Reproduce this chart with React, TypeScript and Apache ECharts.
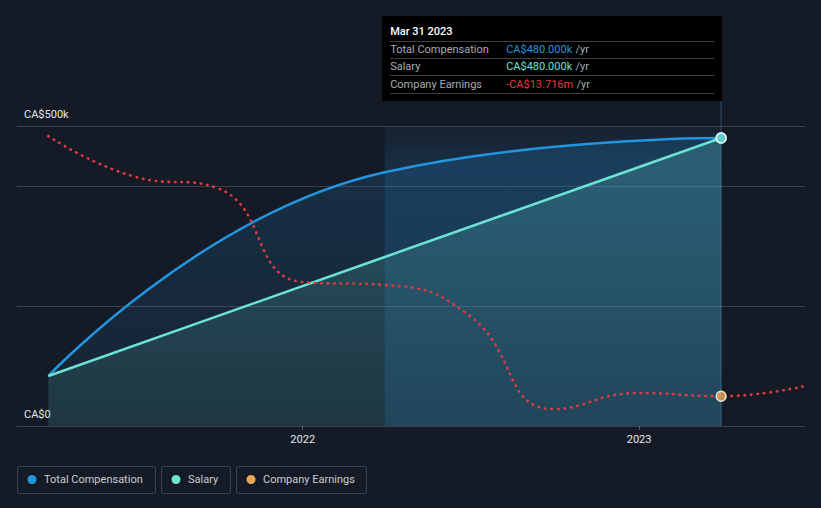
import React, { useEffect, useRef } from "react";
import * as echarts from "echarts";

const compDates = ["2021-03-31", "2022-03-31", "2023-03-31"];
const totalComp = [83300, 423000, 480000];
const salary = [83300, 281700, 480000];

const earnDates = [
  "2021-03-31", "2021-06-30", "2021-09-30", "2021-12-31", "2022-03-31",
  "2022-06-30", "2022-09-30", "2022-12-31", "2023-03-31", "2023-06-30",
];
const earnings = [6.23, 3.17, 2.25, -4.96, -5.19, -7.49, -14.7, -13.47, -13.716, -12.93];

const yTickLabels: Record<number, string> = { 0: "CA$0", 500000: "CA$500k" };
const legendItems = ["Total Compensation", "Salary", "Company Earnings"];
const tooltipTitle = "Mar 31 2023";
const tooltipRows = [
  { label: "Total Compensation", value: "CA$480.000k" },
  { label: "Salary", value: "CA$480.000k" },
  { label: "Company Earnings", value: "-CA$13.716m" },
];
const highlightRange = ["2022-03-31", "2023-03-31"];

const BLUE = "#2394df";
const TEAL = "#6ce2d2";
const RED = "#e5393f";
const ORANGE = "#e8a857";
const BG = "#151b26";
const FONT = "Roboto, 'Noto Sans', sans-serif";

const ts = (s: string) => {
  const [y, m, d] = s.split("-").map(Number);
  return Date.UTC(y, m - 1, d);
};

export default function App() {
  const ref = useRef<HTMLDivElement>(null);
  useEffect(() => {
    document.body.style.margin = "0";
    document.body.style.background = BG;
    const chart = echarts.init(ref.current!, null, { renderer: "svg" });
    const compTotalData = compDates.map((d, i) => [ts(d), totalComp[i]]);
    const salaryData = compDates.map((d, i) => [ts(d), salary[i]]);
    const earnData = earnDates.map((d, i) => [ts(d), earnings[i]]);
    const lastC = compDates.length - 1;
    const lastE = earnDates.indexOf("2023-03-31");

    chart.setOption({
      animation: false,
      useUTC: true,
      backgroundColor: BG,
      textStyle: { fontFamily: FONT },
      grid: { left: 17, right: 16, top: 126, bottom: 82, containLabel: false },
      xAxis: {
        type: "time",
        min: ts("2021-02-25"),
        max: ts("2023-06-30"),
        minInterval: 365 * 24 * 3600 * 1000,
        axisLine: { lineStyle: { color: "#3b404b", width: 1 } },
        axisTick: { show: true, length: 4, lineStyle: { color: "#5a5f69" } },
        splitLine: { show: false },
        axisLabel: {
          color: "#e6e8eb",
          fontSize: 11,
          fontFamily: FONT,
          margin: 8,
          showMinLabel: false,
          showMaxLabel: false,
          formatter: (v: number) => String(new Date(v).getUTCFullYear()),
        },
      },
      yAxis: [
        {
          type: "value",
          min: 0,
          max: 500000,
          interval: 200000,
          axisLine: { show: false },
          axisTick: { show: false },
          splitLine: { lineStyle: { color: "rgba(255,255,255,0.16)", width: 1 } },
          axisLabel: {
            inside: true,
            margin: 7,
            verticalAlign: "bottom",
            padding: [0, 0, 6, 0],
            color: "#e6e8eb",
            fontSize: 11,
            fontFamily: FONT,
            formatter: (v: number) => yTickLabels[v] ?? "",
          },
        },
        { type: "value", min: -16, max: 7, show: false },
      ],
      series: [
        {
          type: "line",
          name: "Total Compensation",
          data: compTotalData,
          smooth: 0.5,
          showSymbol: false,
          lineStyle: { color: BLUE, width: 2.5 },
          areaStyle: {
            color: new echarts.graphic.LinearGradient(0, 0, 0, 1, [
              { offset: 0, color: "rgba(35,148,223,0.25)" },
              { offset: 1, color: "rgba(35,148,223,0.10)" },
            ]),
          },
          z: 2,
        },
        {
          type: "line",
          name: "Salary",
          data: salaryData,
          smooth: 0.5,
          showSymbol: false,
          lineStyle: { color: TEAL, width: 2.5 },
          areaStyle: {
            color: new echarts.graphic.LinearGradient(0, 0, 0, 1, [
              { offset: 0, color: "rgba(108,226,210,0.30)" },
              { offset: 1, color: "rgba(108,226,210,0.14)" },
            ]),
          },
          z: 2,
        },
        {
          type: "line",
          name: "Company Earnings",
          yAxisIndex: 1,
          data: earnData,
          smooth: 0.5,
          showSymbol: false,
          lineStyle: { color: RED, width: 2.6, type: [0.5, 6], cap: "round" },
          z: 2,
        },
        {
          type: "line",
          name: "highlight",
          data: [],
          z: 3,
          markArea: {
            silent: true,
            itemStyle: {
              color: new echarts.graphic.LinearGradient(0, 0, 0, 1, [
                { offset: 0, color: "rgba(40,140,215,0.05)" },
                { offset: 0.12, color: "rgba(40,140,215,0.16)" },
                { offset: 1, color: "rgba(40,140,215,0.16)" },
              ]),
            },
            data: [[{ xAxis: ts(highlightRange[0]) }, { xAxis: ts(highlightRange[1]) }]],
          },
        },
        {
          type: "scatter",
          data: [compTotalData[lastC]],
          symbolSize: 10,
          itemStyle: { color: BLUE, borderColor: "#ffffff", borderWidth: 1.5 },
          z: 5,
        },
        {
          type: "scatter",
          data: [salaryData[lastC]],
          symbolSize: 10,
          itemStyle: { color: TEAL, borderColor: "#ffffff", borderWidth: 1.5 },
          z: 6,
        },
        {
          type: "scatter",
          yAxisIndex: 1,
          data: [earnData[lastE]],
          symbolSize: 10,
          itemStyle: { color: ORANGE, borderColor: "#ffffff", borderWidth: 1.5 },
          z: 6,
        },
      ],
    });

    const px = chart.convertToPixel({ xAxisIndex: 0 }, ts("2023-03-31")) as number;
    const bottomPx = chart.convertToPixel({ yAxisIndex: 0 }, 0) as number;
    const tipLeft = px - 339;
    const rowColors = [BLUE, TEAL, RED];
    const elements: any[] = [
      {
        type: "line",
        shape: { x1: px, y1: 100, x2: px, y2: bottomPx },
        style: { stroke: "rgba(70,130,170,0.55)", lineWidth: 1 },
        z: 1,
      },
      {
        type: "rect",
        shape: { x: tipLeft, y: 16, width: 340, height: 85 },
        style: { fill: "#000000" },
        z: 10,
      },
      {
        type: "text",
        x: tipLeft + 8,
        y: 31,
        style: {
          text: tooltipTitle,
          fill: "#ffffff",
          font: `500 11px ${FONT}`,
          verticalAlign: "middle",
        },
        z: 11,
      },
    ];
    const sepYs = [41, 58, 75, 93];
    sepYs.forEach((y) =>
      elements.push({
        type: "line",
        shape: { x1: tipLeft + 8, y1: y + 0.5, x2: px - 7, y2: y + 0.5 },
        style: { stroke: "#3c3f44", lineWidth: 1 },
        z: 11,
      })
    );
    tooltipRows.forEach((r, i) => {
      const y = 49.5 + i * 17.3;
      elements.push({
        type: "text",
        x: tipLeft + 8,
        y,
        style: { text: r.label, fill: "#a8acb2", font: `11px ${FONT}`, verticalAlign: "middle" },
        z: 11,
      });
      elements.push({
        type: "text",
        x: tipLeft + 124,
        y,
        style: {
          text: `{v|${r.value}} {u|/yr}`,
          verticalAlign: "middle",
          rich: {
            v: { fill: rowColors[i], font: `11px ${FONT}` },
            u: { fill: "#a8acb2", font: `11px ${FONT}` },
          },
        },
        z: 11,
      });
    });

    const boxes = [
      { x: 17, w: 139 },
      { x: 161, w: 70 },
      { x: 236, w: 131 },
    ];
    const legendColors = [BLUE, TEAL, ORANGE];
    boxes.forEach((b, i) => {
      elements.push({
        type: "rect",
        shape: { x: b.x + 0.5, y: 466.5, width: b.w - 1, height: 27, r: 2 },
        style: { fill: "transparent", stroke: "#3b404a", lineWidth: 1 },
      });
      elements.push({
        type: "circle",
        shape: { cx: b.x + 15, cy: 479.5, r: 4.5 },
        style: { fill: legendColors[i] },
      });
      elements.push({
        type: "text",
        x: b.x + 27,
        y: 479.5,
        style: {
          text: legendItems[i],
          fill: "#c9cdd3",
          font: `11px ${FONT}`,
          verticalAlign: "middle",
        },
      });
    });

    chart.setOption({ graphic: { elements } });

    return () => chart.dispose();
  }, []);

  return (
    <div
      ref={ref}
      style={{ position: "fixed", left: 0, top: 0, width: 821, height: 508 }}
    />
  );
}
